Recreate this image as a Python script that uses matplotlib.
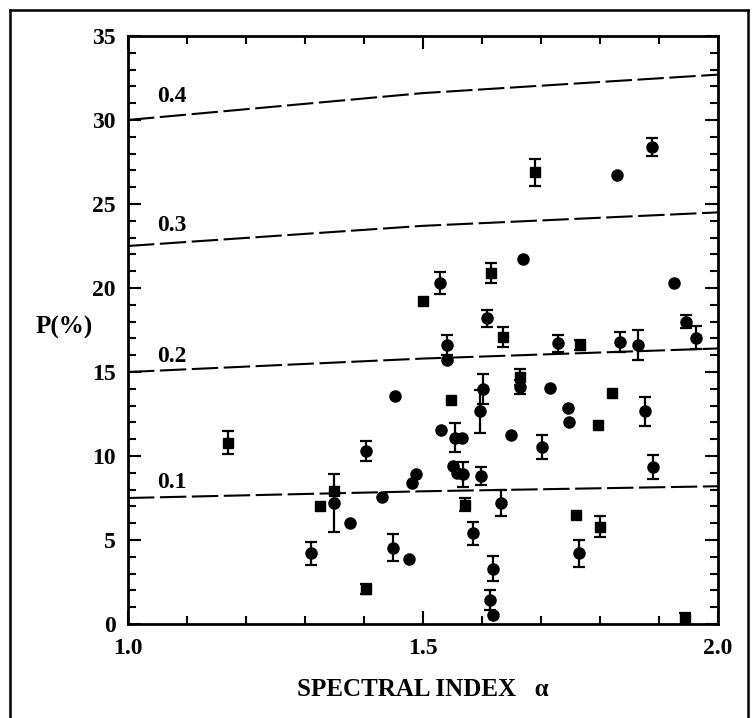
import numpy as np
import matplotlib
matplotlib.use("Agg")
import matplotlib.pyplot as plt
from matplotlib.lines import Line2D

plt.rcParams['font.family'] = ['Liberation Serif', 'DejaVu Serif']
plt.rcParams['font.weight'] = 'bold'
plt.rcParams['lines.scale_dashes'] = False

# spectral index, polarisation (%), error, symbol (c = circle, s = square)
alpha = [1.170, 1.311, 1.325, 1.350, 1.350, 1.376, 1.403, 1.403, 1.430, 1.449,
         1.453, 1.477, 1.481, 1.489, 1.500, 1.528, 1.530, 1.540, 1.540, 1.548,
         1.551, 1.554, 1.557, 1.566, 1.568, 1.571, 1.585, 1.597, 1.599, 1.602,
         1.609, 1.614, 1.616, 1.619, 1.619, 1.633, 1.636, 1.650, 1.664, 1.664,
         1.669, 1.690, 1.701, 1.715, 1.729, 1.746, 1.748, 1.760, 1.764, 1.766,
         1.797, 1.800, 1.820, 1.829, 1.834, 1.865, 1.876, 1.888, 1.890, 1.925,
         1.944, 1.946, 1.963]
pol = [10.8, 4.2, 7.0, 7.2, 7.9, 6.0, 10.3, 2.1, 7.55, 4.55,
       13.55, 3.85, 8.4, 8.9, 19.2, 20.3, 11.55, 16.6, 15.7, 13.35,
       9.4, 11.1, 9.0, 11.1, 8.9, 7.1, 5.4, 12.65, 8.8, 14.0,
       18.2, 1.45, 20.9, 3.3, 0.55, 7.2, 17.1, 11.25, 14.7, 14.1,
       21.7, 26.9, 10.55, 14.05, 16.7, 12.85, 12.05, 6.5, 4.2, 16.6,
       11.85, 5.8, 13.75, 26.75, 16.8, 16.6, 12.65, 28.4, 9.35, 20.3,
       0.3, 18.0, 17.05]
err = [0.7, 0.7, 0.0, 1.7, 0.0, 0.0, 0.6, 0.3, 0.0, 0.8,
       0.0, 0.0, 0.0, 0.0, 0.0, 0.65, 0.0, 0.6, 0.0, 0.0,
       0.0, 0.85, 0.0, 0.0, 0.75, 0.4, 0.7, 1.3, 0.55, 0.9,
       0.5, 0.6, 0.6, 0.75, 0.0, 0.8, 0.6, 0.0, 0.5, 0.4,
       0.0, 0.8, 0.7, 0.0, 0.5, 0.0, 0.0, 0.0, 0.8, 0.3,
       0.0, 0.65, 0.0, 0.0, 0.6, 0.9, 0.85, 0.55, 0.7, 0.0,
       0.35, 0.4, 0.7]
sym = ['s', 'c', 's', 'c', 's', 'c', 'c', 's', 'c', 'c',
       'c', 'c', 'c', 'c', 's', 'c', 'c', 'c', 'c', 's',
       'c', 'c', 'c', 'c', 'c', 's', 'c', 'c', 'c', 'c',
       'c', 'c', 's', 'c', 'c', 'c', 's', 'c', 's', 'c',
       'c', 's', 'c', 'c', 'c', 'c', 'c', 's', 'c', 's',
       's', 's', 's', 'c', 'c', 'c', 'c', 'c', 'c', 'c',
       's', 'c', 'c']

# reference curves for fractional polarisation 0.1 .. 0.4
curve_x = [1.0, 1.5, 2.0]
curves = {
    '0.1': [7.5, 7.9, 8.2],
    '0.2': [15.0, 15.8, 16.4],
    '0.3': [22.5, 23.7, 24.5],
    '0.4': [30.0, 31.6, 32.7],
}
curve_label_pos = {'0.1': 8.4, '0.2': 15.95, '0.3': 23.7, '0.4': 31.4}

fig = plt.figure(figsize=(7.55, 7.18), dpi=100)
ax = fig.add_axes([0.1695, 0.1309, 0.7815, 0.819])

for name, vals in curves.items():
    ax.plot(curve_x, vals, color='black', lw=1.5, dashes=(19, 4))
    ax.text(1.075, curve_label_pos[name], name, ha='center', va='center',
            fontsize=17, fontweight='bold')

alpha = np.array(alpha)
pol = np.array(pol)
err = np.array(err)
sym = np.array(sym)

has_err = err > 0
ax.errorbar(alpha[has_err], pol[has_err], yerr=err[has_err], fmt='none',
            ecolor='black', elinewidth=1.6, capsize=4, capthick=1.6)
circ = sym == 'c'
ax.plot(alpha[circ], pol[circ], 'o', color='black', ms=8)
sq = sym == 's'
ax.plot(alpha[sq], pol[sq], 's', color='black', ms=7.5)

ax.set_xlim(1.0, 2.0)
ax.set_ylim(0, 35)
ax.set_xticks([1.0, 1.5, 2.0])
ax.set_xticklabels(['1.0', '1.5', '2.0'])
ax.set_xticks(np.arange(1.0, 2.01, 0.1), minor=True)
ax.set_yticks(np.arange(0, 36, 5))
ax.set_yticks(np.arange(0, 36, 1), minor=True)
ax.tick_params(which='both', direction='in', top=True, right=True,
               width=1.5, labelsize=17)
ax.tick_params(which='major', length=9.5)
ax.tick_params(which='minor', length=6)
ax.tick_params(axis='x', pad=10)
ax.tick_params(axis='y', pad=9)
for s in ax.spines.values():
    s.set_linewidth(2)

ax.set_xlabel('SPECTRAL INDEX   \u03b1', fontsize=18, fontweight='bold',
              labelpad=14)
ax.set_ylabel('P(%)', fontsize=18, fontweight='bold', rotation=0,
              va='center')
ax.yaxis.set_label_coords(-0.108, 0.505)

# outer frame
lw = 1.8
fig.add_artist(Line2D([10 / 755, 10 / 755], [-0.01, 708 / 718], color='black', lw=lw))
fig.add_artist(Line2D([10 / 755, 748 / 755], [708 / 718, 708 / 718], color='black', lw=lw))
fig.add_artist(Line2D([748 / 755, 748 / 755], [-0.01, 708 / 718], color='black', lw=lw))

fig.savefig('out.png', dpi=100)
